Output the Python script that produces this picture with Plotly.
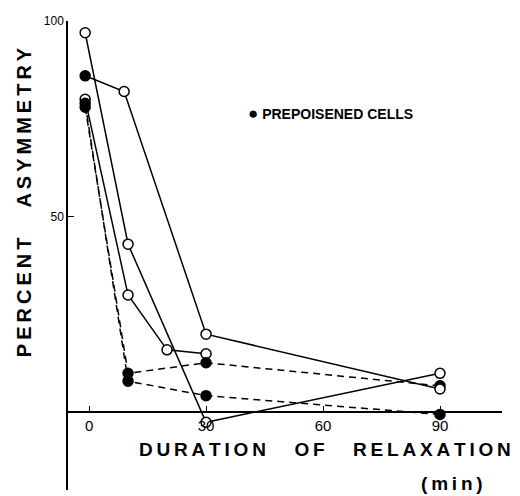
import plotly.graph_objects as go

# Series (x = duration of relaxation in min, y = percent asymmetry)
a_x = [-1, 10, 30, 90]
a_y = [97, 43, -2.5, 10]
b_x = [-1, 9, 30, 90]
b_y = [86, 82, 20, 6]
b_sym = ["circle", "circle-open", "circle-open", "circle-open"]
c_x = [-1, 10, 20, 30]
c_y = [80, 30, 16, 15]
d_x = [-1, 10, 30, 90]
d_y = [78, 10, 12.7, 6.8]
e_x = [-1, 10, 30, 90]
e_y = [79, 8, 4.3, -0.5]

x_ticks = [0, 30, 60, 90]
x_tick_labels = ["0", "30", "60", "90"]
y_ticks = [50, 100]
y_tick_labels = ["50", "100"]

FONT = "Liberation Sans, Arial, sans-serif"
fig = go.Figure()

def add(x, y, dash, filled, symbols=None):
    if symbols is None:
        symbols = ["circle" if filled else "circle-open"] * len(x)
    fills = ["black" if s == "circle" else "white" for s in symbols]
    fig.add_trace(go.Scatter(
        x=x, y=y, mode="lines",
        line=dict(color="black", width=1.5, dash=dash),
        hoverinfo="skip", showlegend=False))
    fig.add_trace(go.Scatter(
        x=x, y=y, mode="markers",
        marker=dict(symbol="circle", size=10, color=fills,
                    line=dict(color="black", width=1.5)),
        showlegend=False))

add(c_x, c_y, "solid", False)
add(a_x, a_y, "solid", False)
add(d_x, d_y, "7px,5px", True)
add(e_x, e_y, "7px,5px", True)
add(b_x, b_y, "solid", False, b_sym)

ymin, ymax = -19.8, 100
# the page body has an 8px margin, so the figure is 8px smaller than the window
fig.update_layout(
    width=512, height=488,
    margin=dict(l=60, r=18, t=10, b=6),
    paper_bgcolor="white", plot_bgcolor="white",
    font=dict(family=FONT, color="black"),
    xaxis=dict(range=[-5.4, 105.9], showgrid=False, zeroline=False,
               showline=True, linecolor="black", linewidth=1.5,
               anchor="free", position=(0 - ymin) / (ymax - ymin),
               ticks="inside", ticklen=6, tickwidth=1.2, tickcolor="black",
               tickvals=x_ticks, ticktext=x_tick_labels,
               tickfont=dict(size=15, family=FONT)),
    yaxis=dict(range=[ymin, ymax], showgrid=False, zeroline=False,
               showline=True, linecolor="black", linewidth=1.5,
               ticks="inside", ticklen=6, tickwidth=1.2, tickcolor="black",
               tickvals=y_ticks, ticktext=y_tick_labels,
               tickfont=dict(size=12, family=FONT)),
)

ts = "\u2009"
def spaced(s):
    return ts.join(list(s))

gap = "\u2003\u2002"
fig.add_annotation(xref="paper", yref="paper", x=-0.101, y=0.614,
                   xanchor="center", yanchor="middle",
                   text="<b>" + spaced("PERCENT") + gap + spaced("ASYMMETRY") + "</b>",
                   textangle=-90, showarrow=False,
                   font=dict(size=20, family=FONT))
fig.add_annotation(x=0.592, y=0.087, xref="paper", yref="paper",
                   xanchor="center", yanchor="middle",
                   text="<b>" + spaced("DURATION") + gap + spaced("OF") + gap + spaced("RELAXATION") + "</b>",
                   showarrow=False, font=dict(size=19, family=FONT))
fig.add_annotation(x=0.885, y=0.013, xref="paper", yref="paper",
                   xanchor="center", yanchor="middle",
                   text="<b>" + spaced("(min)") + "</b>",
                   showarrow=False, font=dict(size=19, family=FONT))
# legend
fig.add_annotation(x=0.41, y=0.803, xref="paper", yref="paper",
                   xanchor="left", yanchor="middle",
                   text="<span style='font-size:17px'>\u25CF</span> <b>PREPOISENED CELLS</b>",
                   showarrow=False, font=dict(size=14, family=FONT))

fig.write_html("out.html")
